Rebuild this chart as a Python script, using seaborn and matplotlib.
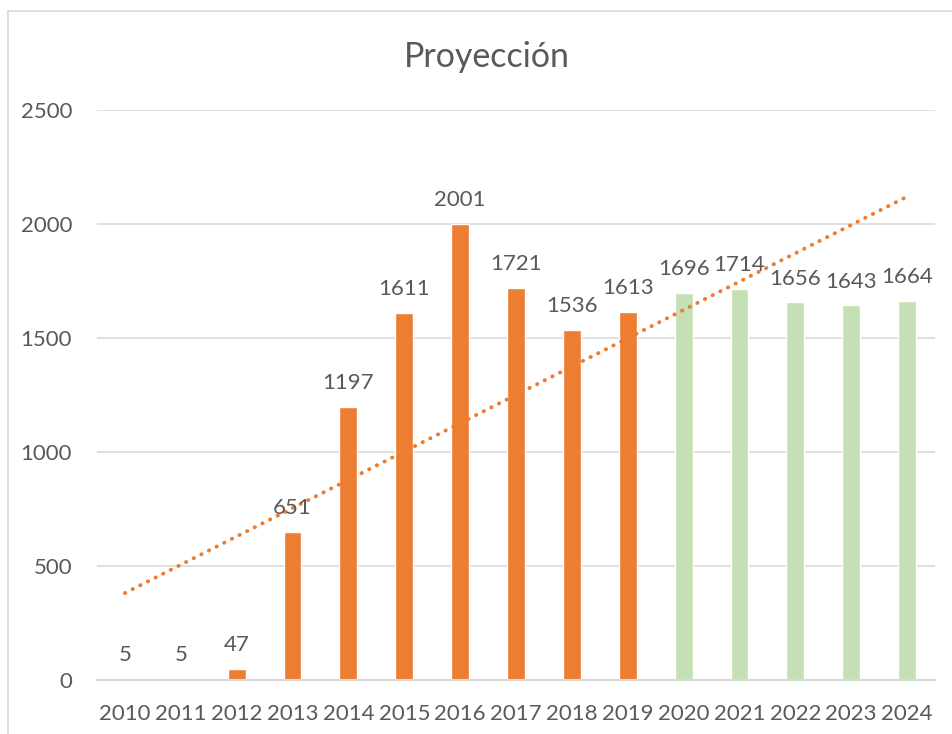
import numpy as np
import pandas as pd
import matplotlib
matplotlib.use("Agg")
import matplotlib.pyplot as plt
import seaborn as sns
from matplotlib.patches import Rectangle

years = ["2010", "2011", "2012", "2013", "2014", "2015", "2016", "2017",
         "2018", "2019", "2020", "2021", "2022", "2023", "2024"]
values = [5, 5, 47, 651, 1197, 1611, 2001, 1721, 1536, 1613,
          1696, 1714, 1656, 1643, 1664]
kinds = ["Real"] * 10 + ["Proyección"] * 5
title = "Proyección"

df = pd.DataFrame({"Año": years, "Valor": values, "Tipo": kinds})
df["pos"] = np.arange(len(years))

sns.set_theme(style="white")
plt.rcParams["font.family"] = ["Lato", "DejaVu Sans"]

text_color = "#595959"
grid_color = "#D9D9D9"
orange = "#ED7D31"
green = "#C5E0B4"

fig = plt.figure(figsize=(9.52, 7.34), dpi=100)
ax = fig.add_axes([97 / 952, 1 - 680 / 734, (935 - 97) / 952, (680 - 110) / 734])

sns.barplot(data=df, x="Año", y="Valor", hue="Tipo",
            palette={"Real": orange, "Proyección": green},
            dodge=False, width=0.32, legend=False, ax=ax, saturation=1)

sns.regplot(data=df, x="pos", y="Valor", scatter=False, ci=None, ax=ax,
            line_kws=dict(color=orange, lw=2.8, linestyle=(0, (0.1, 2.1)),
                          dash_capstyle="round", solid_capstyle="round"))

for cont in ax.containers:
    ax.bar_label(cont, padding=10, fontsize=16, color=text_color)

ax.set_ylim(0, 2500)
ax.set_xlim(-0.5, len(years) - 0.5)
ax.set_yticks([0, 500, 1000, 1500, 2000, 2500])
ax.yaxis.grid(True, color=grid_color, lw=1.2)
ax.set_axisbelow(True)
for s in ["top", "right", "left"]:
    ax.spines[s].set_visible(False)
ax.spines["bottom"].set_color(grid_color)
ax.spines["bottom"].set_linewidth(1.5)
ax.set_xlabel("")
ax.set_ylabel("")
ax.tick_params(axis="both", length=0, labelsize=16, colors=text_color)
ax.tick_params(axis="x", pad=17)
ax.tick_params(axis="y", pad=18)

fig.text(487 / 952, 1 - 57 / 734, title, ha="center", va="center",
         fontsize=24.5, color=text_color)

fig.patches.append(Rectangle((8 / 952, -0.1), 1.2, 0.1 + (734 - 11) / 734,
                             transform=fig.transFigure, fill=False,
                             edgecolor=grid_color, lw=1.2))

fig.savefig("out.png", dpi=100)
